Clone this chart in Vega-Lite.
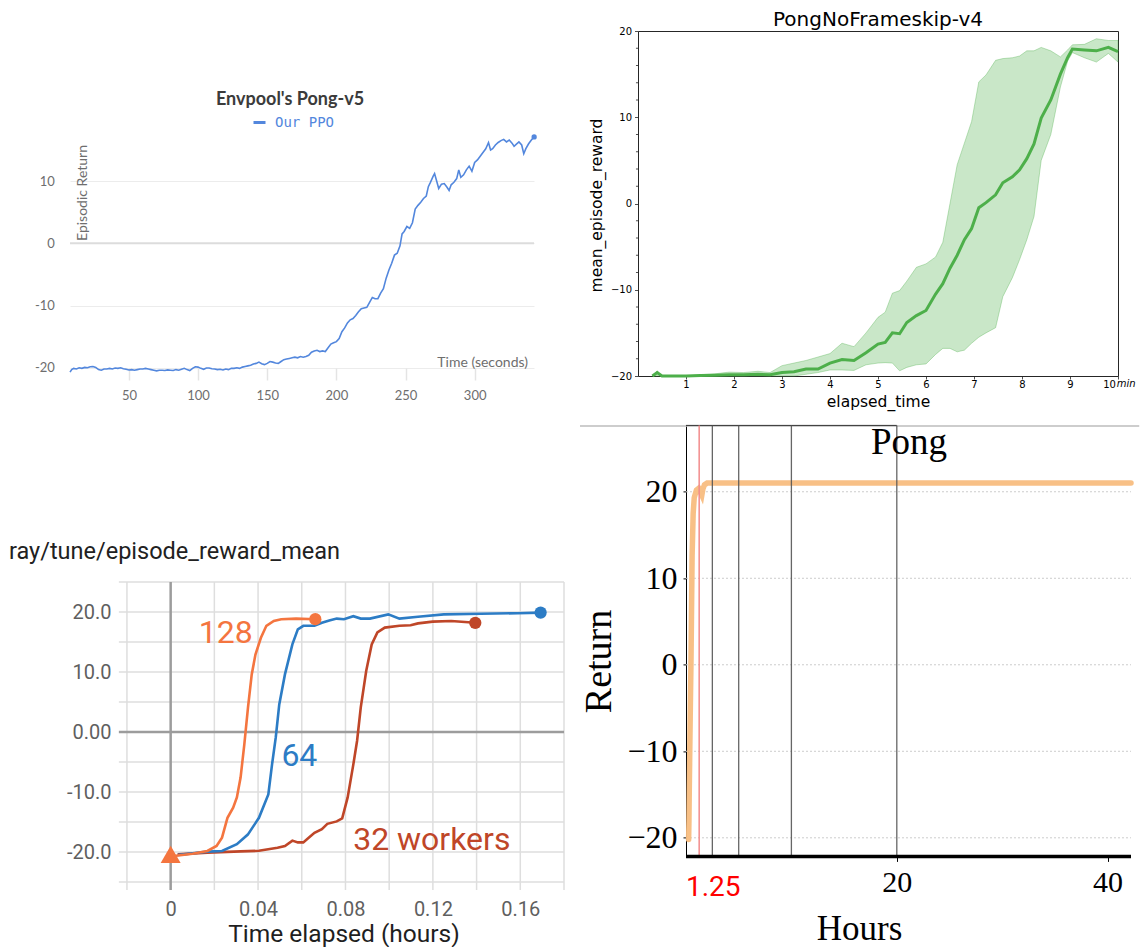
{
  "$schema": "https://vega.github.io/schema/vega-lite/v6.json",
  "background": "white",
  "padding": {"left": 9, "top": 9, "right": 0, "bottom": 0},
  "columns": 2,
  "spacing": {"row": 45.4, "column": 74},
  "align": "each",
  "bounds": "flush",
  "resolve": {"scale": {"color": "independent"}, "legend": {"color": "independent"}},
  "config": {
    "view": {"stroke": null},
    "axis": {"labelFlush": false, "labelOverlap": false}
  },
  "concat": [
    {
      "width": 464,
      "height": 349,
      "title": {"text": "Envpool's Pong-v5", "frame": "group", "anchor": "middle", "offset": -78, "dx": -12, "font": "Lato", "fontSize": 18, "fontWeight": "bold", "color": "#3b3b3b"},
      "data": {"values": [
        {"t":7.4,"r":-20.7},{"t":8.6,"r":-20.3},{"t":10,"r":-20.1},{"t":12,"r":-20.2},{"t":14,"r":-20.0},{"t":16,"r":-20.1},{"t":18,"r":-19.95},{"t":20,"r":-20.0},{"t":22,"r":-19.85},{"t":24,"r":-19.8},{"t":26,"r":-19.95},{"t":28,"r":-20.3},{"t":30,"r":-20.4},{"t":32,"r":-20.2},{"t":34,"r":-20.2},{"t":36,"r":-20.1},{"t":38,"r":-20.2},{"t":40,"r":-20.05},{"t":42,"r":-20.1},{"t":44,"r":-20.0},{"t":46,"r":-20.15},{"t":48,"r":-20.25},{"t":50,"r":-20.35},{"t":52,"r":-20.3},{"t":54,"r":-20.4},{"t":56,"r":-20.3},{"t":58,"r":-20.2},{"t":60,"r":-20.2},{"t":62,"r":-20.1},{"t":64,"r":-20.2},{"t":66,"r":-20.3},{"t":68,"r":-20.4},{"t":70,"r":-20.5},{"t":72,"r":-20.4},{"t":74,"r":-20.4},{"t":76,"r":-20.45},{"t":78,"r":-20.35},{"t":80,"r":-20.4},{"t":82,"r":-20.45},{"t":84,"r":-20.3},{"t":86,"r":-20.4},{"t":88,"r":-20.25},{"t":90,"r":-20.1},{"t":92,"r":-20.3},{"t":94,"r":-20.45},{"t":96,"r":-20.1},{"t":98,"r":-19.85},{"t":100,"r":-19.9},{"t":102,"r":-20.1},{"t":104,"r":-20.25},{"t":106,"r":-20.05},{"t":108,"r":-20.05},{"t":110,"r":-20.15},{"t":112,"r":-20.2},{"t":114,"r":-20.3},{"t":116,"r":-20.25},{"t":118,"r":-20.35},{"t":120,"r":-20.2},{"t":122,"r":-20.3},{"t":124,"r":-20.1},{"t":126,"r":-20.1},{"t":128,"r":-20.0},{"t":130,"r":-20.1},{"t":132,"r":-19.9},{"t":134,"r":-19.8},{"t":136,"r":-19.7},{"t":138,"r":-19.6},{"t":140,"r":-19.4},{"t":142,"r":-19.3},{"t":144,"r":-19.1},{"t":146,"r":-19.35},{"t":148,"r":-19.5},{"t":150,"r":-19.3},{"t":152,"r":-19.0},{"t":154,"r":-19.1},{"t":156,"r":-19.25},{"t":158,"r":-19.3},{"t":160,"r":-19.0},{"t":162,"r":-18.7},{"t":164,"r":-18.6},{"t":166,"r":-18.5},{"t":168,"r":-18.4},{"t":170,"r":-18.3},{"t":172,"r":-18.4},{"t":174,"r":-18.2},{"t":176,"r":-18.3},{"t":178,"r":-18.2},{"t":180,"r":-18.0},{"t":182,"r":-17.5},{"t":184,"r":-17.3},{"t":186,"r":-17.2},{"t":188,"r":-17.4},{"t":190,"r":-17.3},{"t":192,"r":-17.4},{"t":194,"r":-16.8},{"t":196,"r":-16.2},{"t":198,"r":-16.0},{"t":200,"r":-15.8},{"t":202,"r":-15.3},{"t":204,"r":-14.2},{"t":206,"r":-13.6},{"t":208,"r":-12.8},{"t":210,"r":-12.3},{"t":212,"r":-12.1},{"t":214,"r":-11.6},{"t":216,"r":-11.0},{"t":218,"r":-10.5},{"t":220,"r":-10.4},{"t":222,"r":-10.3},{"t":224,"r":-9.5},{"t":226,"r":-8.7},{"t":228,"r":-8.9},{"t":230,"r":-8.9},{"t":232,"r":-8.0},{"t":234,"r":-7.3},{"t":236,"r":-5.6},{"t":238,"r":-4.3},{"t":240,"r":-3.2},{"t":242,"r":-1.9},{"t":244,"r":-1.6},{"t":246,"r":-0.4},{"t":247.5,"r":1.5},{"t":249,"r":1.9},{"t":251,"r":2.7},{"t":253,"r":2.4},{"t":255,"r":3.3},{"t":257,"r":5.5},{"t":259,"r":6.1},{"t":261,"r":6.6},{"t":263,"r":7.2},{"t":265,"r":7.6},{"t":266.5,"r":9.1},{"t":268,"r":9.8},{"t":270,"r":10.8},{"t":271,"r":11.2},{"t":272.5,"r":10.0},{"t":274,"r":8.8},{"t":276,"r":9.5},{"t":278,"r":9.6},{"t":280,"r":9.0},{"t":281.5,"r":8.5},{"t":283,"r":9.4},{"t":285,"r":9.8},{"t":287,"r":10.4},{"t":288.5,"r":11.8},{"t":290,"r":10.6},{"t":292,"r":11.0},{"t":294,"r":11.8},{"t":296,"r":12.4},{"t":298,"r":11.6},{"t":300,"r":13.0},{"t":302,"r":13.4},{"t":304,"r":14.0},{"t":306,"r":14.6},{"t":308,"r":15.2},{"t":310,"r":16.2},{"t":311.5,"r":15.0},{"t":313,"r":15.2},{"t":315,"r":15.8},{"t":317,"r":16.2},{"t":319,"r":16.5},{"t":321,"r":16.7},{"t":323,"r":16.3},{"t":325,"r":16.6},{"t":327,"r":16.1},{"t":328.5,"r":15.6},{"t":330,"r":15.9},{"t":332,"r":16.3},{"t":334,"r":15.8},{"t":335.5,"r":14.4},{"t":337,"r":15.2},{"t":339,"r":16.0},{"t":341,"r":16.6},{"t":343,"r":17.1}
      ]},
      "layer": [
        {
          "data": {"values": [{"v": 0}]},
          "mark": {"type": "rule", "color": "#dcdcdc", "strokeWidth": 2},
          "encoding": {
            "y": {"field": "v", "type": "quantitative", "scale": {"domain": [-21.97, 34.12], "nice": false, "zero": false}}
          }
        },
        {
          "mark": {"type": "line", "strokeWidth": 1.6},
          "encoding": {
            "x": {"field": "t", "type": "quantitative", "scale": {"domain": [7.38, 342.9], "nice": false, "zero": false},
              "axis": {"values": [50, 100, 150, 200, 250, 300], "offset": -12, "grid": false, "domain": false, "ticks": true, "tickSize": 12, "tickColor": "#e4e4e4", "tickWidth": 1.5, "labelFont": "Lato", "labelFontSize": 13, "labelColor": "#6e6e6e", "labelPadding": 9.7, "title": "Time (seconds)", "titleFont": "Lato", "titleFontSize": 14, "titleFontWeight": "normal", "titleColor": "#6e6e6e", "titleX": 457.5, "titleY": -1.5, "titleAlign": "right", "titleBaseline": "alphabetic"}},
            "y": {"field": "r", "type": "quantitative", "scale": {"domain": [-21.97, 34.12], "nice": false, "zero": false},
              "axis": {"values": [-20, -10, 0, 10], "grid": true, "gridColor": "#ececec", "gridWidth": 1, "domain": false, "ticks": false, "labelPadding": 15.7, "labelFont": "Lato", "labelFontSize": 13, "labelColor": "#6e6e6e", "labelExpr": "replace(datum.label, '\u2212', '-')", "title": "Episodic Return", "titleFont": "Lato", "titleFontSize": 14, "titleFontWeight": "normal", "titleColor": "#6e6e6e", "titleX": 16, "titleY": 161.5, "titleAlign": "center", "titleBaseline": "alphabetic"}},
            "color": {"datum": "Our PPO", "scale": {"domain": ["Our PPO"], "range": ["#5387DD"]},
              "legend": {"orient": "none", "legendX": 182, "legendY": 84, "title": null, "padding": 0, "symbolType": "stroke", "symbolSize": 144, "symbolStrokeWidth": 3, "labelFont": "DejaVu Sans Mono", "labelFontSize": 14, "labelColor": "#5387DD", "labelOffset": 8}}
          }
        },
        {
          "transform": [{"filter": "datum.t >= 343"}],
          "mark": {"type": "circle", "size": 28, "opacity": 1, "color": "#5387DD"},
          "encoding": {
            "x": {"field": "t", "type": "quantitative"},
            "y": {"field": "r", "type": "quantitative"}
          }
        }
      ]
    },
    {
      "width": 480,
      "height": 345,
      "view": {"stroke": "#262626", "strokeWidth": 1},
      "title": {"text": "PongNoFrameskip-v4", "frame": "group", "anchor": "middle", "offset": -4, "font": "DejaVu Sans", "fontSize": 20, "fontWeight": "normal", "color": "#000000"},
      "data": {"values": [
        {"t":0.3,"m":-20,"lo":-20,"hi":-20},{"t":0.4,"m":-19.6,"lo":-20,"hi":-19.4},{"t":0.5,"m":-20,"lo":-20,"hi":-20},{"t":0.7,"m":-20,"lo":-20,"hi":-20},{"t":1.0,"m":-20,"lo":-20,"hi":-20},{"t":1.3,"m":-19.95,"lo":-20,"hi":-19.85},{"t":1.6,"m":-19.9,"lo":-20,"hi":-19.75},{"t":1.9,"m":-19.85,"lo":-20,"hi":-19.55},{"t":2.2,"m":-19.85,"lo":-20,"hi":-19.6},{"t":2.5,"m":-19.8,"lo":-20,"hi":-19.45},{"t":2.75,"m":-19.85,"lo":-20,"hi":-19.6},{"t":3.0,"m":-19.6,"lo":-20,"hi":-18.8},{"t":3.25,"m":-19.5,"lo":-20,"hi":-18.5},{"t":3.5,"m":-19.2,"lo":-19.8,"hi":-18.2},{"t":3.75,"m":-19.2,"lo":-19.6,"hi":-17.8},{"t":4.0,"m":-18.5,"lo":-19.3,"hi":-17.4},{"t":4.25,"m":-18.1,"lo":-19.3,"hi":-16.2},{"t":4.5,"m":-18.2,"lo":-19.35,"hi":-16.6},{"t":4.75,"m":-17.3,"lo":-18.7,"hi":-15.0},{"t":5.0,"m":-16.3,"lo":-18.5,"hi":-13.2},{"t":5.15,"m":-16.1,"lo":-18.45,"hi":-12.6},{"t":5.3,"m":-15.0,"lo":-18.5,"hi":-10.4},{"t":5.45,"m":-15.1,"lo":-19.4,"hi":-10.1},{"t":5.6,"m":-13.8,"lo":-19.0,"hi":-9.0},{"t":5.8,"m":-13.0,"lo":-18.7,"hi":-7.4},{"t":6.0,"m":-12.4,"lo":-18.6,"hi":-7.0},{"t":6.2,"m":-10.5,"lo":-17.5,"hi":-6.2},{"t":6.35,"m":-9.3,"lo":-16.8,"hi":-4.5},{"t":6.5,"m":-7.5,"lo":-16.8,"hi":0.0},{"t":6.65,"m":-6.0,"lo":-17.2,"hi":4.5},{"t":6.8,"m":-4.2,"lo":-17.0,"hi":7.0},{"t":6.95,"m":-2.9,"lo":-16.2,"hi":9.5},{"t":7.1,"m":-0.5,"lo":-15.5,"hi":14.1},{"t":7.25,"m":0.1,"lo":-15.0,"hi":14.9},{"t":7.45,"m":1.0,"lo":-14.4,"hi":16.6},{"t":7.6,"m":2.4,"lo":-10.8,"hi":16.8},{"t":7.8,"m":3.1,"lo":-8.6,"hi":16.9},{"t":7.95,"m":3.9,"lo":-6.5,"hi":17.1},{"t":8.1,"m":5.2,"lo":-4.2,"hi":17.7},{"t":8.25,"m":6.9,"lo":-1.5,"hi":17.7},{"t":8.4,"m":9.9,"lo":5.0,"hi":18.1},{"t":8.6,"m":12.0,"lo":8.0,"hi":17.7},{"t":8.8,"m":15.0,"lo":13.5,"hi":17.0},{"t":8.95,"m":16.9,"lo":16.5,"hi":17.8},{"t":9.05,"m":17.9,"lo":17.5,"hi":18.4},{"t":9.3,"m":17.8,"lo":16.9,"hi":18.45},{"t":9.55,"m":17.7,"lo":16.4,"hi":19.1},{"t":9.8,"m":18.1,"lo":17.4,"hi":18.9},{"t":10.0,"m":17.6,"lo":16.4,"hi":18.9}
      ]},
      "layer": [
        {
          "mark": {"type": "area", "fill": "#4daf4a", "fillOpacity": 0.3, "stroke": "#4daf4a", "strokeOpacity": 0.35, "strokeWidth": 1},
          "encoding": {
            "x": {"field": "t", "type": "quantitative", "scale": {"domain": [0, 10], "nice": false, "zero": false},
              "axis": {"values": [1, 2, 3, 4, 5, 6, 7, 8, 9, 10], "grid": false, "domain": false, "ticks": true, "tickSize": 3, "tickColor": "#222222", "tickWidth": 0.8, "labelFont": "DejaVu Sans", "labelFontSize": 10, "labelColor": "#000000", "labelPadding": 0, "labelOffset": {"condition": {"test": "datum.value == 10", "value": -9}, "value": 0}, "title": "elapsed_time", "titleFont": "DejaVu Sans", "titleFontSize": 15.5, "titleFontWeight": "normal", "titleColor": "#000000", "titleY": 30, "titleBaseline": "alphabetic"}},
            "y": {"field": "hi", "type": "quantitative", "scale": {"domain": [-20, 20], "nice": false, "zero": false},
              "axis": {"values": [-20, -10, 0, 10, 20], "grid": false, "domain": false, "ticks": true, "tickSize": 3.5, "tickColor": "#222222", "tickWidth": 0.8, "labelFont": "DejaVu Sans", "labelFontSize": 10, "labelColor": "#000000", "labelPadding": 3, "title": "mean_episode_reward", "titleFont": "DejaVu Sans", "titleFontSize": 15.5, "titleFontWeight": "normal", "titleColor": "#000000", "titleX": -37, "titleY": 174, "titleAlign": "center", "titleBaseline": "alphabetic"}},
            "y2": {"field": "lo"}
          }
        },
        {
          "mark": {"type": "line", "color": "#4daf4a", "strokeWidth": 3},
          "encoding": {
            "x": {"field": "t", "type": "quantitative"},
            "y": {"field": "m", "type": "quantitative"}
          }
        },
        {
          "data": {"values": [{"v":-18},{"v":-16},{"v":-14},{"v":-12},{"v":-8},{"v":-6},{"v":-4},{"v":-2},{"v":2},{"v":4},{"v":6},{"v":8},{"v":12},{"v":14},{"v":16},{"v":18}]},
          "mark": {"type": "rule", "color": "#222222", "strokeWidth": 0.8},
          "encoding": {
            "y": {"field": "v", "type": "quantitative"},
            "x": {"datum": -0.042, "type": "quantitative"},
            "x2": {"datum": 0}
          }
        },
        {
          "data": {"values": [{"u": "min"}]},
          "mark": {"type": "text", "font": "DejaVu Sans", "fontSize": 10, "fontStyle": "italic", "align": "left", "baseline": "alphabetic", "dx": -1.3, "dy": 11, "color": "#000000"},
          "encoding": {
            "text": {"field": "u"},
            "x": {"datum": 10, "type": "quantitative"},
            "y": {"datum": -20, "type": "quantitative"}
          }
        }
      ]
    },
    {
      "width": 494,
      "height": 456.6,
      "title": {"text": "ray/tune/episode_reward_mean", "frame": "group", "anchor": "start", "dx": -61, "offset": -137.6, "font": "Roboto", "fontSize": 23.5, "fontWeight": "normal", "color": "#212121"},
      "layer": [
        {
          "data": {"values": [{"v":-25},{"v":-20},{"v":-15},{"v":-10},{"v":-5},{"v":5},{"v":10},{"v":15},{"v":20},{"v":25}]},
          "mark": {"type": "rule", "color": "#dedede", "strokeWidth": 1.5},
          "encoding": {
            "y": {"field": "v", "type": "quantitative", "scale": {"domain": [-25, 51.1], "nice": false, "zero": false}},
            "x": {"datum": -0.0237, "type": "quantitative", "scale": {"domain": [-0.04606, 0.18], "nice": false, "zero": false}},
            "x2": {"datum": 0.18}
          }
        },
        {
          "data": {"values": [{"h":-0.02},{"h":0.02},{"h":0.04},{"h":0.06},{"h":0.08},{"h":0.1},{"h":0.12},{"h":0.14},{"h":0.16},{"h":0.18}]},
          "mark": {"type": "rule", "color": "#dedede", "strokeWidth": 1.5},
          "encoding": {
            "x": {"field": "h", "type": "quantitative"},
            "y": {"datum": -26.33, "type": "quantitative"},
            "y2": {"datum": 25}
          }
        },
        {
          "data": {"values": [{"v": 0}]},
          "mark": {"type": "rule", "color": "#9c9c9c", "strokeWidth": 2.5},
          "encoding": {
            "y": {"field": "v", "type": "quantitative"},
            "x": {"datum": -0.0237, "type": "quantitative"},
            "x2": {"datum": 0.18}
          }
        },
        {
          "data": {"values": [{"h": 0}]},
          "mark": {"type": "rule", "color": "#9c9c9c", "strokeWidth": 2.5},
          "encoding": {
            "x": {"field": "h", "type": "quantitative"},
            "y": {"datum": -26.33, "type": "quantitative"},
            "y2": {"datum": 25}
          }
        },
        {
          "data": {"values": [
            {"w":"32","t":0.0032,"r":-20.4},{"w":"32","t":0.0168,"r":-20.1},{"w":"32","t":0.032,"r":-19.9},{"w":"32","t":0.0404,"r":-19.8},{"w":"32","t":0.0489,"r":-19.3},{"w":"32","t":0.0523,"r":-19.0},{"w":"32","t":0.0557,"r":-18.1},{"w":"32","t":0.0582,"r":-18.4},{"w":"32","t":0.0607,"r":-18.4},{"w":"32","t":0.0633,"r":-17.6},{"w":"32","t":0.0658,"r":-16.8},{"w":"32","t":0.0692,"r":-16.2},{"w":"32","t":0.0717,"r":-15.3},{"w":"32","t":0.076,"r":-14.9},{"w":"32","t":0.0785,"r":-14.4},{"w":"32","t":0.081,"r":-10.9},{"w":"32","t":0.0836,"r":-5.4},{"w":"32","t":0.0853,"r":-1.5},{"w":"32","t":0.087,"r":4.1},{"w":"32","t":0.0895,"r":10.2},{"w":"32","t":0.092,"r":14.6},{"w":"32","t":0.0946,"r":16.6},{"w":"32","t":0.098,"r":17.4},{"w":"32","t":0.1047,"r":17.7},{"w":"32","t":0.1098,"r":17.8},{"w":"32","t":0.1132,"r":18.1},{"w":"32","t":0.1199,"r":18.4},{"w":"32","t":0.1284,"r":18.5},{"w":"32","t":0.1394,"r":18.2},
            {"w":"64","t":0.0032,"r":-20.5},{"w":"64","t":0.0168,"r":-19.94},{"w":"64","t":0.0235,"r":-19.83},{"w":"64","t":0.0303,"r":-18.7},{"w":"64","t":0.0353,"r":-17.1},{"w":"64","t":0.0404,"r":-14.3},{"w":"64","t":0.0447,"r":-10.4},{"w":"64","t":0.0464,"r":-5.4},{"w":"64","t":0.0481,"r":-0.9},{"w":"64","t":0.0497,"r":4.6},{"w":"64","t":0.0523,"r":9.6},{"w":"64","t":0.0557,"r":14.6},{"w":"64","t":0.0582,"r":17.1},{"w":"64","t":0.0607,"r":17.7},{"w":"64","t":0.0658,"r":17.7},{"w":"64","t":0.0692,"r":18.2},{"w":"64","t":0.0726,"r":18.6},{"w":"64","t":0.076,"r":18.9},{"w":"64","t":0.0793,"r":18.8},{"w":"64","t":0.0836,"r":19.3},{"w":"64","t":0.087,"r":18.9},{"w":"64","t":0.0912,"r":18.9},{"w":"64","t":0.0996,"r":19.6},{"w":"64","t":0.1047,"r":18.9},{"w":"64","t":0.1132,"r":19.2},{"w":"64","t":0.125,"r":19.6},{"w":"64","t":0.1419,"r":19.7},{"w":"64","t":0.1588,"r":19.8},{"w":"64","t":0.1693,"r":19.9},
            {"w":"128","t":0.0015,"r":-20.67},{"w":"128","t":0.01,"r":-20.28},{"w":"128","t":0.0168,"r":-19.83},{"w":"128","t":0.021,"r":-19.0},{"w":"128","t":0.0235,"r":-17.6},{"w":"128","t":0.026,"r":-14.3},{"w":"128","t":0.0286,"r":-12.6},{"w":"128","t":0.0303,"r":-10.9},{"w":"128","t":0.032,"r":-7.6},{"w":"128","t":0.0337,"r":-2.1},{"w":"128","t":0.0354,"r":4.1},{"w":"128","t":0.0371,"r":9.6},{"w":"128","t":0.0388,"r":12.9},{"w":"128","t":0.0413,"r":15.7},{"w":"128","t":0.0438,"r":17.7},{"w":"128","t":0.0472,"r":18.5},{"w":"128","t":0.0506,"r":18.8},{"w":"128","t":0.0574,"r":18.9},{"w":"128","t":0.0662,"r":18.8}
          ]},
          "layer": [
            {
              "mark": {"type": "line", "strokeWidth": 2.6},
              "encoding": {
                "x": {"field": "t", "type": "quantitative",
                  "axis": {"values": [0, 0.04, 0.08, 0.12, 0.16], "labelExpr": "datum.value == 0 ? '0' : format(datum.value, '.2f')", "grid": false, "domain": false, "ticks": false, "labelPadding": 17, "labelFont": "Roboto", "labelFontSize": 20, "labelColor": "#5f5f5f", "title": "Time elapsed (hours)", "titleFont": "Roboto", "titleFontSize": 24.5, "titleFontWeight": "normal", "titleColor": "#1f1f1f", "titleX": 273.5, "titleY": 59.7, "titleAlign": "center", "titleBaseline": "alphabetic"}},
                "y": {"field": "r", "type": "quantitative",
                  "axis": {"values": [-20, -10, 0, 10, 20], "labelExpr": "datum.value == 0 ? '0.00' : replace(format(datum.value, '.1f'), '\u2212', '-')", "offset": -57, "grid": false, "domain": false, "ticks": false, "labelPadding": 16, "labelFont": "Roboto", "labelFontSize": 20, "labelColor": "#5f5f5f", "title": null}},
                "color": {"field": "w", "type": "nominal", "scale": {"domain": ["128", "64", "32"], "range": ["#F4753F", "#2C7CC5", "#BF4628"]}, "legend": null}
              }
            },
            {
              "transform": [
                {"joinaggregate": [{"op": "max", "field": "t", "as": "tmax"}], "groupby": ["w"]},
                {"filter": "datum.t == datum.tmax"}
              ],
              "mark": {"type": "circle", "size": 150, "opacity": 1},
              "encoding": {
                "x": {"field": "t", "type": "quantitative"},
                "y": {"field": "r", "type": "quantitative"},
                "color": {"field": "w", "type": "nominal", "legend": null}
              }
            }
          ]
        },
        {
          "data": {"values": [{"t": 0, "r": -20.4, "w": "128"}]},
          "mark": {"type": "point", "shape": "triangle-up", "size": 400, "filled": true, "opacity": 1},
          "encoding": {
            "x": {"field": "t", "type": "quantitative"},
            "y": {"field": "r", "type": "quantitative"},
            "color": {"field": "w", "type": "nominal", "legend": null}
          }
        },
        {
          "data": {"values": [
            {"t": 0.0252, "r": 16.5, "label": "128", "w": "128"},
            {"t": 0.0589, "r": -4, "label": "64", "w": "64"},
            {"t": 0.1195, "r": -18, "label": "32 workers", "w": "32"}
          ]},
          "mark": {"type": "text", "font": "Roboto", "fontSize": 32, "align": "center", "baseline": "middle"},
          "encoding": {
            "x": {"field": "t", "type": "quantitative"},
            "y": {"field": "r", "type": "quantitative"},
            "text": {"field": "label"},
            "color": {"field": "w", "type": "nominal", "legend": null}
          }
        }
      ]
    },
    {
      "width": 493,
      "height": 431,
      "title": {"text": "Pong", "frame": "group", "anchor": "middle", "offset": -37.65, "dx": 24.5, "font": "Liberation Serif", "fontSize": 37, "fontWeight": "normal", "color": "#000000"},
      "layer": [
        {
          "data": {"values": [{"a": -10.06, "b": 43.0, "v": 27.6}]},
          "mark": {"type": "rule", "color": "#bdbdbd", "strokeWidth": 1.5},
          "encoding": {
            "x": {"field": "a", "type": "quantitative", "scale": {"domain": [-4.554, 42.22], "nice": false, "zero": false}},
            "x2": {"field": "b"},
            "y": {"field": "v", "type": "quantitative", "scale": {"domain": [-22.15, 27.67], "nice": false, "zero": false}}
          }
        },
        {
          "data": {"values": [{"v": -20}, {"v": -10}, {"v": 0}, {"v": 10}, {"v": 20}]},
          "mark": {"type": "rule", "color": "#cccccc", "strokeWidth": 1, "strokeDash": [2, 2]},
          "encoding": {
            "y": {"field": "v", "type": "quantitative"},
            "x": {"datum": 0, "type": "quantitative"},
            "x2": {"datum": 42.22}
          }
        },
        {
          "data": {"values": [{"a": 0, "b": 20, "v": 27.67}]},
          "mark": {"type": "rule", "color": "#333333", "strokeWidth": 1},
          "encoding": {
            "x": {"field": "a", "type": "quantitative"},
            "x2": {"field": "b"},
            "y": {"field": "v", "type": "quantitative"}
          }
        },
        {
          "data": {"values": [
            {"h": 0.25, "r": -20.2}, {"h": 0.28, "r": -18}, {"h": 0.31, "r": -14.6}, {"h": 0.4, "r": -6}, {"h": 0.48, "r": 1.0}, {"h": 0.58, "r": 12.6}, {"h": 0.68, "r": 17.5}, {"h": 0.78, "r": 19.3}, {"h": 0.99, "r": 20.2}, {"h": 1.2, "r": 20.4}, {"h": 1.35, "r": 20.0}, {"h": 1.5, "r": 19.6}, {"h": 1.6, "r": 20.3}, {"h": 1.75, "r": 20.8}, {"h": 2.0, "r": 21.0}, {"h": 5, "r": 21.0}, {"h": 10, "r": 21.0}, {"h": 20, "r": 21.0}, {"h": 30, "r": 21.0}, {"h": 42.22, "r": 21.0}
          ]},
          "mark": {"type": "line", "color": "#F8BD80", "strokeWidth": 5.5, "strokeCap": "round", "opacity": 0.95},
          "encoding": {
            "x": {"field": "h", "type": "quantitative",
              "axis": {"values": [20, 40], "grid": false, "domain": false, "ticks": true, "tickSize": 5, "tickColor": "#000000", "tickWidth": 1, "labelFont": "Liberation Serif", "labelFontSize": 30, "labelColor": "#000000", "labelPadding": 6, "title": "Hours", "titleFont": "Liberation Serif", "titleFontSize": 35, "titleFontWeight": "normal", "titleColor": "#000000", "titleX": 221, "titleY": 83.5, "titleAlign": "center", "titleBaseline": "alphabetic"}},
            "y": {"field": "r", "type": "quantitative",
              "axis": {"values": [-20, -10, 0, 10, 20], "offset": -48, "grid": false, "domain": true, "domainColor": "#000000", "domainWidth": 1, "ticks": true, "tickSize": 3, "tickColor": "#000000", "labelFont": "Liberation Serif", "labelFontSize": 32, "labelColor": "#000000", "labelPadding": 6, "title": "Return", "titleFont": "Liberation Serif", "titleFontSize": 38, "titleFontWeight": "normal", "titleColor": "#000000", "titleX": -75.5, "titleY": 235.6, "titleAlign": "center", "titleBaseline": "alphabetic"}}
          }
        },
        {
          "data": {"values": [{"h": 2.5}, {"h": 5}, {"h": 10}, {"h": 20}]},
          "mark": {"type": "rule", "color": "#555555", "strokeWidth": 1.3, "opacity": 0.9},
          "encoding": {"x": {"field": "h", "type": "quantitative"}}
        },
        {
          "data": {"values": [{"h": 1.25}]},
          "mark": {"type": "rule", "color": "#F28B8B", "strokeWidth": 1.5},
          "encoding": {"x": {"field": "h", "type": "quantitative"}}
        },
        {
          "data": {"values": [{"a": 0, "b": 42.22, "v": -22.15}]},
          "mark": {"type": "rule", "color": "#000000", "strokeWidth": 3.5},
          "encoding": {
            "x": {"field": "a", "type": "quantitative"},
            "x2": {"field": "b"},
            "y": {"field": "v", "type": "quantitative"}
          }
        },
        {
          "data": {"values": [{"label": "1.25"}]},
          "mark": {"type": "text", "font": "Roboto", "fontSize": 28, "color": "#ff0000", "align": "left", "baseline": "alphabetic"},
          "encoding": {
            "text": {"field": "label"},
            "x": {"datum": 0, "type": "quantitative"},
            "y": {"datum": -26.74, "type": "quantitative"}
          }
        }
      ]
    }
  ]
}
